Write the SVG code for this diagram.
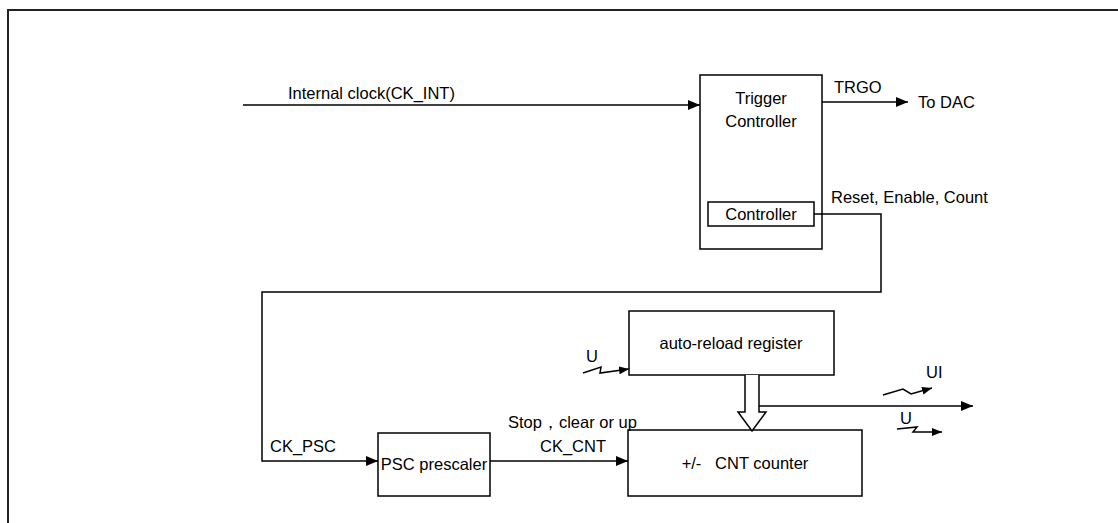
<svg xmlns="http://www.w3.org/2000/svg" width="1118" height="523" viewBox="0 0 1118 523">
<defs>
<marker id="arr" viewBox="0 0 12 10" refX="12" refY="5" markerWidth="12" markerHeight="10" markerUnits="userSpaceOnUse" orient="auto">
<path d="M0,0 L12,5 L0,10 Z" fill="#000"/>
</marker>
<marker id="arrs" viewBox="0 0 10 8" refX="10" refY="4" markerWidth="10" markerHeight="8" markerUnits="userSpaceOnUse" orient="auto">
<path d="M0,0 L10,4 L0,8 Z" fill="#000"/>
</marker>
</defs>
<style>
text{font-family:"Liberation Sans",Arial,sans-serif;font-size:16.5px;fill:#000}
.box{fill:#fff;stroke:#000;stroke-width:1.5}
.ln{fill:none;stroke:#000;stroke-width:1.5}
.c{text-anchor:middle}
</style>
<rect x="0" y="0" width="1118" height="523" fill="#fff"/>
<path d="M8,523 V10 H1118" fill="none" stroke="#222" stroke-width="2"/>

<g id="trigger-controller">
<rect class="box" x="700" y="75" width="122" height="174"/>
<text class="c" x="761" y="104">Trigger</text>
<text class="c" x="761" y="127">Controller</text>
</g>
<g id="controller">
<rect class="box" x="708" y="202" width="106" height="24"/>
<text class="c" x="761" y="220">Controller</text>
</g>
<g id="auto-reload">
<rect class="box" x="629" y="311" width="205" height="64"/>
<text class="c" x="731" y="349">auto-reload register</text>
</g>
<g id="psc">
<rect class="box" x="378" y="433" width="112" height="63"/>
<text class="c" x="434" y="470">PSC prescaler</text>
</g>
<g id="cnt">
<rect class="box" x="628" y="430" width="234" height="66"/>
<text class="c" x="745" y="469" xml:space="preserve">+/-   CNT counter</text>
</g>

<g id="connectors">
<line class="ln" x1="243" y1="105" x2="700" y2="105" marker-end="url(#arr)"/>
<line class="ln" x1="822" y1="102" x2="908" y2="102" marker-end="url(#arr)"/>
<polyline class="ln" points="814,214 881,214 881,292 262,292 262,461 378,461" marker-end="url(#arr)"/>
<line class="ln" x1="490" y1="461" x2="628" y2="461" marker-end="url(#arr)"/>
<path d="M745,375 V412 H738 L752,431 L766,412 H759 V375" fill="#fff" stroke="#000" stroke-width="1.5"/>
<line class="ln" x1="759" y1="406" x2="973" y2="406" marker-end="url(#arr)"/>
<polyline class="ln" points="583,373 601,367 600,373 629,369" marker-end="url(#arrs)"/>
<polyline class="ln" points="883,395 903,389 911,394 932,388" marker-end="url(#arrs)"/>
<polyline class="ln" points="897,429 917,427 913,432 942,432" marker-end="url(#arrs)"/>
</g>

<g id="labels">
<text x="288" y="99">Internal clock(CK_INT)</text>
<text x="834" y="93">TRGO</text>
<text x="918" y="108">To DAC</text>
<text x="831" y="203">Reset, Enable, Count</text>
<text x="586" y="362">U</text>
<text x="926" y="378">UI</text>
<text x="900" y="424">U</text>
<text x="270" y="452">CK_PSC</text>
<text x="540" y="452">CK_CNT</text>
<text x="508" y="428">Stop，clear or up</text>
</g>
</svg>
